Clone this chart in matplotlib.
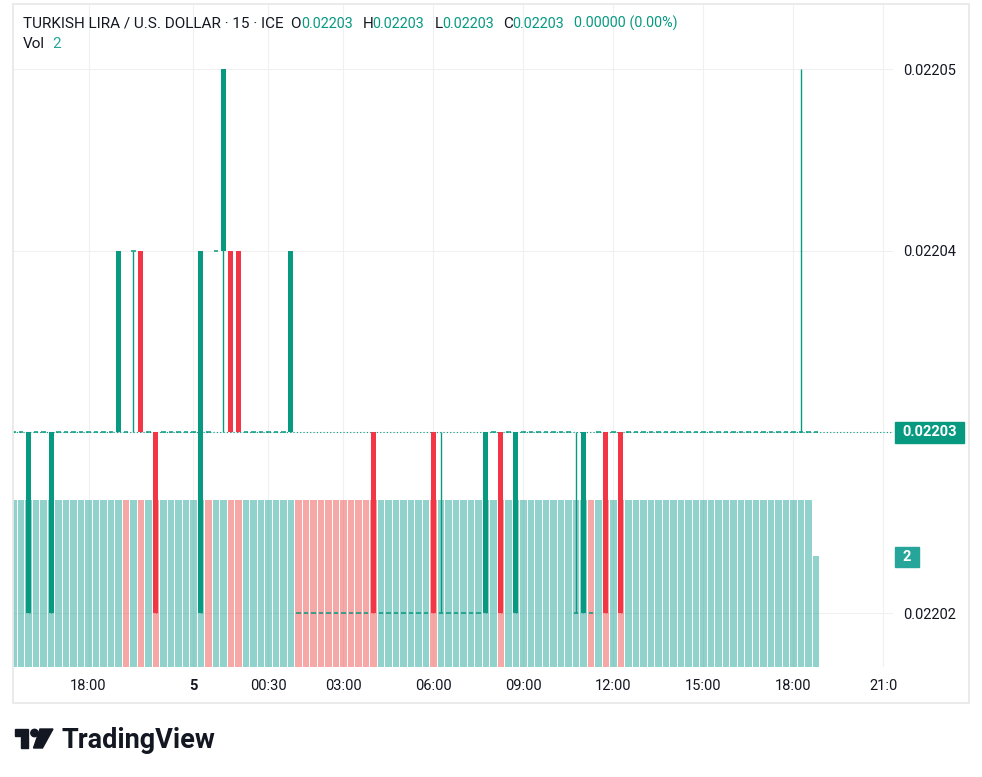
import matplotlib
matplotlib.use("Agg")
import matplotlib.pyplot as plt
import numpy as np
from matplotlib.patches import Rectangle, Polygon, Ellipse

plt.rcParams['font.family'] = ['Roboto', 'DejaVu Sans']

# OHLC of each 15 min bar, in units of 0.00001 USD
opens = [
    2203, 2203, 2202, 2203, 2203, 2202, 2203, 2203, 2203, 2203, 2203, 2203,
    2203, 2203, 2203, 2203, 2204, 2204, 2203, 2203, 2203, 2203, 2203, 2203,
    2203, 2202, 2203, 2204, 2204, 2204, 2204, 2203, 2203, 2203, 2203, 2203,
    2203, 2203, 2202, 2202, 2202, 2202, 2202, 2202, 2202, 2202, 2202, 2202,
    2203, 2202, 2202, 2202, 2202, 2202, 2202, 2202, 2203, 2202, 2202, 2202,
    2202, 2202, 2202, 2202, 2203, 2203, 2203, 2202, 2203, 2203, 2203, 2203,
    2203, 2203, 2203, 2202, 2202, 2202, 2203, 2203, 2203, 2203, 2203, 2203,
    2203, 2203, 2203, 2203, 2203, 2203, 2203, 2203, 2203, 2203, 2203, 2203,
    2203, 2203, 2203, 2203, 2203, 2203, 2203, 2203, 2203, 2203, 2203, 2203,
]
highs = [
    2203, 2203, 2203, 2203, 2203, 2203, 2203, 2203, 2203, 2203, 2203, 2203,
    2203, 2203, 2204, 2203, 2204, 2204, 2203, 2203, 2203, 2203, 2203, 2203,
    2203, 2204, 2203, 2204, 2205, 2204, 2204, 2203, 2203, 2203, 2203, 2203,
    2203, 2204, 2202, 2202, 2202, 2202, 2202, 2202, 2202, 2202, 2202, 2202,
    2203, 2202, 2202, 2202, 2202, 2202, 2202, 2202, 2203, 2203, 2202, 2202,
    2202, 2202, 2202, 2203, 2203, 2203, 2203, 2203, 2203, 2203, 2203, 2203,
    2203, 2203, 2203, 2203, 2203, 2202, 2203, 2203, 2203, 2203, 2203, 2203,
    2203, 2203, 2203, 2203, 2203, 2203, 2203, 2203, 2203, 2203, 2203, 2203,
    2203, 2203, 2203, 2203, 2203, 2203, 2203, 2203, 2203, 2205, 2203, 2203,
]
lows = [
    2203, 2203, 2202, 2203, 2203, 2202, 2203, 2203, 2203, 2203, 2203, 2203,
    2203, 2203, 2203, 2203, 2203, 2203, 2203, 2202, 2203, 2203, 2203, 2203,
    2203, 2202, 2203, 2204, 2203, 2203, 2203, 2203, 2203, 2203, 2203, 2203,
    2203, 2203, 2202, 2202, 2202, 2202, 2202, 2202, 2202, 2202, 2202, 2202,
    2202, 2202, 2202, 2202, 2202, 2202, 2202, 2202, 2202, 2202, 2202, 2202,
    2202, 2202, 2202, 2202, 2203, 2202, 2203, 2202, 2203, 2203, 2203, 2203,
    2203, 2203, 2203, 2202, 2202, 2202, 2203, 2202, 2203, 2202, 2203, 2203,
    2203, 2203, 2203, 2203, 2203, 2203, 2203, 2203, 2203, 2203, 2203, 2203,
    2203, 2203, 2203, 2203, 2203, 2203, 2203, 2203, 2203, 2203, 2203, 2203,
]
closes = [
    2203, 2203, 2203, 2203, 2203, 2203, 2203, 2203, 2203, 2203, 2203, 2203,
    2203, 2203, 2204, 2203, 2204, 2203, 2203, 2202, 2203, 2203, 2203, 2203,
    2203, 2204, 2203, 2204, 2205, 2203, 2203, 2203, 2203, 2203, 2203, 2203,
    2203, 2204, 2202, 2202, 2202, 2202, 2202, 2202, 2202, 2202, 2202, 2202,
    2202, 2202, 2202, 2202, 2202, 2202, 2202, 2202, 2202, 2202, 2202, 2202,
    2202, 2202, 2202, 2203, 2203, 2202, 2203, 2203, 2203, 2203, 2203, 2203,
    2203, 2203, 2203, 2202, 2203, 2202, 2203, 2202, 2203, 2202, 2203, 2203,
    2203, 2203, 2203, 2203, 2203, 2203, 2203, 2203, 2203, 2203, 2203, 2203,
    2203, 2203, 2203, 2203, 2203, 2203, 2203, 2203, 2203, 2203, 2203, 2203,
]
volumes = [
    3, 3, 3, 3, 3, 3, 3, 3, 3, 3, 3, 3,
    3, 3, 3, 3, 3, 3, 3, 3, 3, 3, 3, 3,
    3, 3, 3, 3, 3, 3, 3, 3, 3, 3, 3, 3,
    3, 3, 3, 3, 3, 3, 3, 3, 3, 3, 3, 3,
    3, 3, 3, 3, 3, 3, 3, 3, 3, 3, 3, 3,
    3, 3, 3, 3, 3, 3, 3, 3, 3, 3, 3, 3,
    3, 3, 3, 3, 3, 3, 3, 3, 3, 3, 3, 3,
    3, 3, 3, 3, 3, 3, 3, 3, 3, 3, 3, 3,
    3, 3, 3, 3, 3, 3, 3, 3, 3, 3, 3, 2,
]
# volume bar colour as shown: g = up, r = down
vol_dir = (
    "gggggggggggg"
    "gggrgrgrgggg"
    "ggrggrrggggg"
    "ggrrrrrrrrrr"
    "rgggggggrggg"
    "gggggrgggggg"
    "gggggrgrgrgg"
    "gggggggggggg"
    "gggggggggggg"
)

time_ticks = [10, 24, 34, 44, 56, 68, 80, 92, 104, 116]
time_labels = ["18:00", "5", "00:30", "03:00", "06:00", "09:00",
               "12:00", "15:00", "18:00", "21:0"]
price_ticks = [0.02202, 0.02203, 0.02204, 0.02205]
price_labels = ["0.02202", "", "0.02204", "0.02205"]

UP = "#089981"
DOWN = "#F23645"
TEXT = "#131722"
W, H = 982, 777


def fx(px):
    return px / W


def fy(py):
    return 1 - py / H


o = np.array(opens) / 1e5
h = np.array(highs) / 1e5
l = np.array(lows) / 1e5
c = np.array(closes) / 1e5
x = np.arange(len(o))

fig = plt.figure(figsize=(W / 100, H / 100), dpi=100)
rect = [fx(13), fy(667), (893 - 13) / W, (667 - 5) / H]
ax = fig.add_axes(rect)
axv = fig.add_axes(rect, sharex=ax)
axc = fig.add_axes(rect, sharex=ax, sharey=ax)

ax.set_xlim(-0.067, 117.27)
ax.set_ylim(0.02201704, 0.02205355)
axv.set_ylim(0, 11.89)

# grid + axis labels
ax.set_xticks(time_ticks)
ax.set_xticklabels(time_labels)
ax.set_yticks(price_ticks)
ax.set_yticklabels(price_labels)
ax.yaxis.tick_right()
ax.tick_params(length=0, labelsize=10.5, colors=TEXT)
ax.tick_params(axis="x", pad=9)
ax.tick_params(axis="y", pad=7.5)
ax.get_xticklabels()[1].set_fontweight("bold")
ax.grid(True, color="#F0F0F0", lw=0.8)
for sp in ax.spines.values():
    sp.set_visible(False)

# volume
vcol = [(38 / 255, 166 / 255, 154 / 255, 0.5) if d == "g"
        else (239 / 255, 83 / 255, 80 / 255, 0.5) for d in vol_dir]
axv.bar(x, volumes, width=0.87, color=vcol)
axv.axis("off")
axv.patch.set_visible(False)

# candles
axc.axis("off")
axc.patch.set_visible(False)
axc.axhline(c[-1], color=UP, lw=0.8, ls=(0, (1, 2)), zorder=1)
col = np.where(c >= o, UP, DOWN)
wick = h > l
axc.vlines(x[wick], l[wick], h[wick], colors=col[wick], lw=1.0, zorder=2)
flat = o == c
axc.hlines(c[flat], x[flat] - 0.33, x[flat] + 0.33, colors=UP, lw=1.1, zorder=3)
body = ~flat
axc.bar(x[body], np.abs(c - o)[body], bottom=np.minimum(o, c)[body],
        width=0.667, color=col[body], zorder=3)

# last price / last volume labels
fig.add_artist(Rectangle((fx(895), fy(442.5)), 69 / W, 20.5 / H,
                         transform=fig.transFigure, color=UP))
fig.text(fx(929.5), fy(432.5), "0.02203", color="white", size=10.5,
         weight="bold", ha="center", va="center")
fig.add_artist(Rectangle((fx(895), fy(567)), 24 / W, 20.5 / H,
                         transform=fig.transFigure, color="#26A69A"))
fig.text(fx(907), fy(557), "2", color="white", size=10.5,
         weight="bold", ha="center", va="center")

# legend line
hs = 11
vs = 10.4
fig.text(fx(23), fy(28), "TURKISH LIRA / U.S. DOLLAR · 15 · ICE", color=TEXT,
         size=hs, va="baseline")
for lx, lab, vx, val in [(290, "O", 301, "0.02203"), (363, "H", 372, "0.02203"),
                         (435, "L", 442, "0.02203"), (503, "C", 512.5, "0.02203")]:
    fig.text(fx(lx), fy(28), lab, color=TEXT, size=hs, va="baseline")
    fig.text(fx(vx), fy(28), val, color=UP, size=vs, va="baseline")
fig.text(fx(574), fy(28), "0.00000 (0.00%)", color=UP, size=vs, va="baseline")
fig.text(fx(23), fy(48.5), "Vol", color=TEXT, size=hs, va="baseline")
fig.text(fx(52), fy(48.5), "2", color="#26A69A", size=hs, va="baseline")

# frame
fig.add_artist(Rectangle((fx(12.5), fy(702.5)), (969 - 12.5) / W, (702.5 - 3.5) / H,
                         transform=fig.transFigure, fill=False,
                         ec="#E8E8E8", lw=1.3))

# TradingView logo
logo = "#131722"
fig.add_artist(Polygon([(fx(15), fy(729)), (fx(28), fy(729)), (fx(28), fy(748)),
                        (fx(21), fy(748)), (fx(21), fy(736)), (fx(15), fy(736))],
                       closed=True, transform=fig.transFigure, color=logo))
fig.add_artist(Ellipse((fx(34.5), fy(733)), 7.4 / W, 7.4 / H,
                       transform=fig.transFigure, color=logo))
fig.add_artist(Polygon([(fx(40), fy(729)), (fx(53), fy(729)), (fx(42.5), fy(748)),
                        (fx(33.5), fy(748))],
                       closed=True, transform=fig.transFigure, color=logo))
fig.text(fx(61), fy(748), "TradingView", color=logo, size=19.5,
         weight="bold", va="baseline")

fig.savefig("out.png", dpi=100, facecolor="white")
